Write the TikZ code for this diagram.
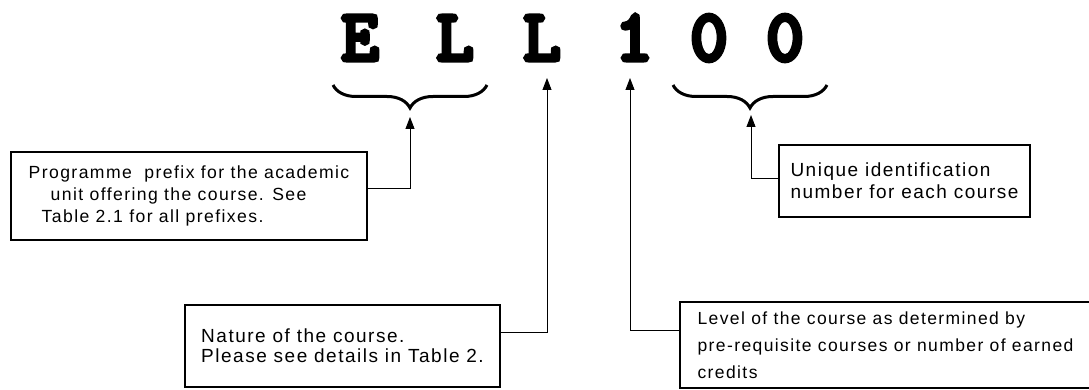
\documentclass[tikz,border=0pt]{standalone}
\usepackage{fontspec}
\usetikzlibrary{arrows.meta,positioning,calc,decorations.pathreplacing}
\newfontfamily\notefont{Liberation Sans}[LetterSpace=8]
\newfontfamily\codefont{Latin Modern Mono}[FakeBold=7]
\tikzstyle{codechar}=[font=\codefont\fontsize{72}{72}\selectfont,inner sep=0pt,anchor=base]
\tikzstyle{notebox}=[draw,line width=1.2pt,align=left,inner sep=0pt,font=\notefont\fontsize{17.6}{22}\selectfont]
\tikzstyle{link}=[line width=0.9pt,-{Triangle[length=12pt,width=9pt]}]
\tikzstyle{curly}=[decorate,decoration={brace,amplitude=23pt},line width=3pt]

\begin{document}
\begin{tikzpicture}[x=1pt,y=-1pt]
\useasboundingbox (0,0) rectangle (1089,390);
% course code
\foreach \ch/\cx/\nm in {E/360/ce,L/455/cla,L/542/clb,1/634/cone,0/709/cza,0/785/czb}
  \node [codechar] (\nm) at (\cx,60) {\ch};
% braces under the prefix and the number
\draw [curly] (487,85) -- (333,85);
\draw [curly] (827,85) -- (673,85);
% arrow tips
\coordinate (tippre) at (410,117);
\coordinate (tipnat) at (547,78);
\coordinate (tiplev) at (630,78);
\coordinate (tipuni) at (751,115);
% notes
\node [notebox,minimum width=356pt,minimum height=88pt] (pre) at (189,196)
  {Programme\ \ prefix for the academic\\
   \hspace*{22pt}unit offering the course. See\\
   \hspace*{13pt}Table 2.1 for all prefixes.};
\node [notebox,minimum width=315pt,minimum height=82pt,font=\notefont\fontsize{19}{20}\selectfont] (nat) at (342.5,346)
  {Nature of the course.\\
   Please see details in Table 2.};
\node [notebox,minimum width=251pt,minimum height=72pt,font=\notefont\fontsize{19}{22}\selectfont] (uni) at (904.5,181)
  {Unique identification\\
   number for each course};
\node [notebox,minimum width=411pt,minimum height=86pt,font=\notefont\fontsize{17.5}{27}\selectfont] (lev) at (885.5,345)
  {Level of the course as determined by\\
   pre-requisite courses or number of earned\\
   credits};
% connectors
\draw [link] ([yshift=8pt]pre.east) -| (tippre);
\draw [link] ([yshift=14pt]nat.east) -| (tipnat);
\draw [link] ([yshift=15pt]lev.west) -| (tiplev);
\draw [link] ([yshift=3pt]uni.west) -| (tipuni);
\end{tikzpicture}
\end{document}
